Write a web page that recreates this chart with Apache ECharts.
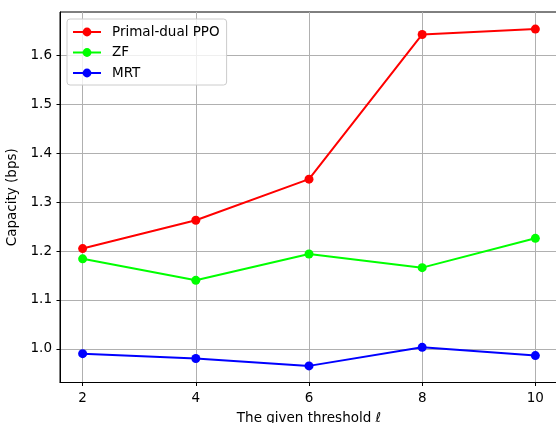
<!DOCTYPE html>
<html>
<head>
<meta charset="utf-8">
<script src="https://cdn.jsdelivr.net/npm/echarts@6/dist/echarts.min.js"></script>
<style>
  html, body { margin: 0; padding: 0; background: #fff; }
  #chart { width: 556px; height: 423px; }
</style>
</head>
<body>
<div id="chart"></div>
<script>
// Threshold values on the x axis
const thresholds = [2, 4, 6, 8, 10];

// Capacity (bps) for each scheme
const primalDualPPO = [1.205, 1.263, 1.347, 1.643, 1.654];
const zf = [1.184, 1.140, 1.194, 1.166, 1.226];
const mrt = [0.990, 0.980, 0.965, 1.003, 0.986];

// Tick labels
const xTicks = [2, 4, 6, 8, 10];
const yTicks = [1.0, 1.1, 1.2, 1.3, 1.4, 1.5, 1.6];

const FONT = 'DejaVu Sans';

function pairs(xs, ys) {
  return xs.map((x, i) => [x, ys[i]]);
}

function lineSeries(name, color, values) {
  return {
    name: name,
    type: 'line',
    data: pairs(thresholds, values),
    symbol: 'circle',
    symbolSize: 9,
    showSymbol: true,
    lineStyle: { color: color, width: 2 },
    itemStyle: { color: color },
    emphasis: { disabled: true },
    animation: false,
    z: 3
  };
}

const chart = echarts.init(document.getElementById('chart'), null, { renderer: 'canvas' });

chart.setOption({
  animation: false,
  backgroundColor: '#ffffff',
  textStyle: { fontFamily: FONT },
  grid: {
    left: 60,
    top: 12,
    right: -2,
    bottom: 40.5,
    show: true,
    borderColor: '#000',
    borderWidth: 1,
    containLabel: false,
    outerBoundsMode: 'none'
  },
  legend: {
    orient: 'vertical',
    left: 67,
    top: 19,
    padding: [5, 7, 4, 5],
    itemWidth: 28,
    itemHeight: 11,
    itemGap: 4.5,
    backgroundColor: 'rgba(255,255,255,0.8)',
    borderColor: '#cccccc',
    borderWidth: 1,
    borderRadius: 3,
    textStyle: {
      fontFamily: FONT,
      fontSize: 13.5,
      color: '#000',
      lineHeight: 16,
      padding: [0, 0, 0, 6]
    },
    data: ['Primal-dual PPO', 'ZF', 'MRT']
  },
  xAxis: {
    type: 'value',
    min: 1.6,
    max: 10.4,
    name: 'The given threshold \u2113',
    nameLocation: 'middle',
    nameGap: 29,
    nameTextStyle: {
      fontFamily: FONT,
      fontSize: 13.5,
      color: '#000'
    },
    axisLine: { show: true, onZero: false, lineStyle: { color: '#000', width: 1 } },
    axisTick: {
      show: true,
      inside: false,
      length: 3.5,
      customValues: xTicks,
      lineStyle: { color: '#000', width: 1 }
    },
    axisLabel: {
      customValues: xTicks,
      margin: 9,
      fontFamily: FONT,
      fontSize: 13.5,
      color: '#000'
    },
    splitLine: { show: true, lineStyle: { color: '#b0b0b0', width: 1 } }
  },
  yAxis: {
    type: 'value',
    min: 0.931,
    max: 1.689,
    name: 'Capacity (bps)',
    nameLocation: 'middle',
    nameGap: 30,
    nameTextStyle: {
      fontFamily: FONT,
      fontSize: 13.5,
      color: '#000'
    },
    axisLine: { show: true, onZero: false, lineStyle: { color: '#000', width: 1 } },
    axisTick: {
      show: true,
      inside: false,
      length: 3.5,
      customValues: yTicks,
      lineStyle: { color: '#000', width: 1 }
    },
    axisLabel: {
      customValues: yTicks,
      margin: 8,
      fontFamily: FONT,
      fontSize: 13.5,
      color: '#000',
      formatter: v => v.toFixed(1)
    },
    splitLine: { show: true, lineStyle: { color: '#b0b0b0', width: 1 } }
  },
  series: [
    lineSeries('Primal-dual PPO', '#ff0000', primalDualPPO),
    lineSeries('ZF', '#00ff00', zf),
    lineSeries('MRT', '#0000ff', mrt)
  ]
});
</script>
</body>
</html>
